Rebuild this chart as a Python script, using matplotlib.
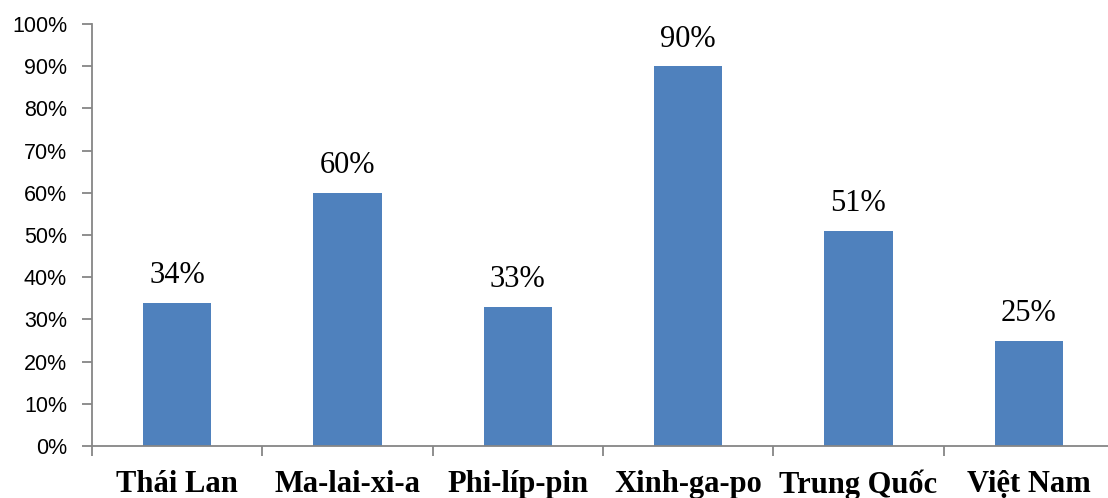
import matplotlib.pyplot as plt
import numpy as np

countries = ["Thái Lan", "Ma-lai-xi-a", "Phi-líp-pin", "Xinh-ga-po", "Trung Quốc", "Việt Nam"]
values = [34, 60, 33, 90, 51, 25]
yticks = np.arange(0, 101, 10)

fig = plt.figure(figsize=(11.08, 4.98), dpi=100)
W, H = 1108, 498
left, right, bottom, top = 92, 1114, 446, 24
ax = fig.add_axes([left / W, (H - bottom) / H, (right - left) / W, (bottom - top) / H])

x = np.arange(len(countries))
ax.bar(x, values, width=0.4, color="#4F81BD", zorder=2)
for xi, v in zip(x, values):
    ax.text(xi, v + 3, f"{v}%", ha="center", va="bottom",
            fontsize=22, family="Liberation Serif", color="black")

ax.set_xlim(-0.5, len(countries) - 0.5)
ax.set_ylim(0, 100)
ax.set_yticks(yticks)
ax.set_yticklabels([f"{t}%" for t in yticks], fontsize=15.5, family="Liberation Sans")

# category labels, ticks at category boundaries
ax.set_xticks(np.arange(-0.5, len(countries), 1))
ax.set_xticklabels([])
ax.set_xticks(x, minor=True)
ax.set_xticklabels(countries, minor=True, fontsize=22, fontweight="bold",
                   family="Liberation Serif")
ax.tick_params(axis="x", which="minor", length=0, pad=17)
ax.tick_params(axis="x", which="major", length=7, color="#868686", width=1.3)
ax.tick_params(axis="y", length=7, color="#868686", width=1.3, pad=11)

for s in ["top", "right"]:
    ax.spines[s].set_visible(False)
for s in ["left", "bottom"]:
    ax.spines[s].set_color("#868686")
    ax.spines[s].set_linewidth(1.3)

fig.savefig("out.png", dpi=100)
